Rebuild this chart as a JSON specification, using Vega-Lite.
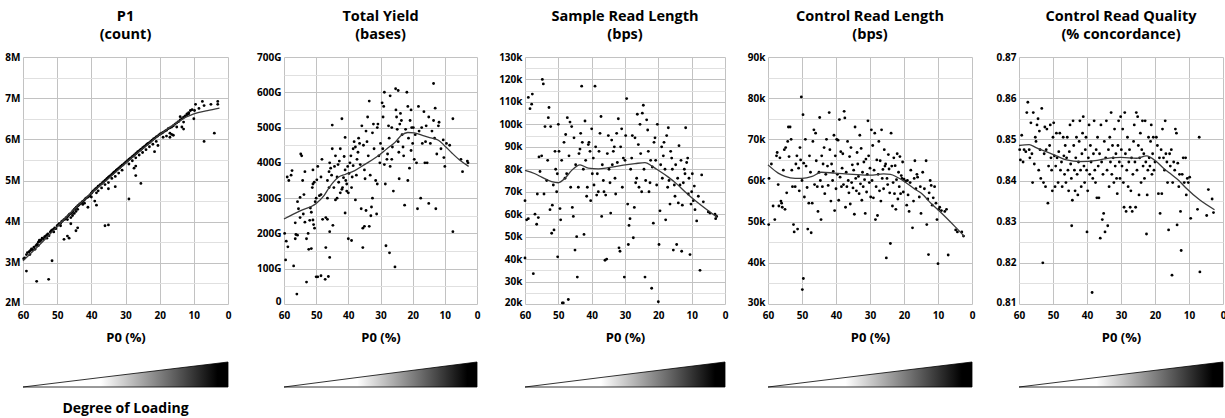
{
  "$schema": "https://vega.github.io/schema/vega-lite/v6.json",
  "padding": {"left": 0, "top": 8, "right": 0, "bottom": 0},
  "background": "white",
  "config": {
    "view": {"stroke": null},
    "font": "Open Sans",
    "title": {"fontSize": 14.5, "fontWeight": "bold", "font": "Open Sans", "lineHeight": 18, "offset": 10, "color": "#000", "anchor": "middle"},
    "axis": {"labelFont": "Open Sans", "titleFont": "Open Sans", "labelColor": "#000", "titleColor": "#000", "labelFontWeight": "bold", "labelFontSize": 10, "titleFontWeight": "bold", "titleFontSize": 13, "domain": false, "ticks": false}
  },
  "datasets": {
    "ramp": [{"t": 0}, {"t": 1}],
    "p1": [
      {"p0":59.8,"v":3.1},{"p0":59.5,"v":3.12},{"p0":59,"v":3.2},{"p0":58.7,"v":3.25},{"p0":58.2,"v":3.27},{"p0":57.8,"v":3.3},{"p0":57.5,"v":3.34},{"p0":57.2,"v":3.32},{"p0":56.8,"v":3.38},{"p0":56.5,"v":3.33},{"p0":56.2,"v":3.42},{"p0":55.9,"v":3.45},{"p0":55.5,"v":3.5},{"p0":55.2,"v":3.55},{"p0":55,"v":3.52},{"p0":54.7,"v":3.55},{"p0":54.4,"v":3.6},{"p0":54,"v":3.58},{"p0":53.7,"v":3.63},{"p0":53.4,"v":3.65},{"p0":53,"v":3.68},{"p0":52.7,"v":3.7},{"p0":52.4,"v":3.66},{"p0":52,"v":3.75},{"p0":51.7,"v":3.78},{"p0":51.4,"v":3.8},{"p0":51,"v":3.82},{"p0":50.7,"v":3.85},{"p0":50.4,"v":3.83},{"p0":50,"v":3.9},
      {"p0":49.7,"v":3.92},{"p0":49.4,"v":3.95},{"p0":49,"v":3.96},{"p0":48.7,"v":4.0},{"p0":48.4,"v":4.02},{"p0":48,"v":4.05},{"p0":47.7,"v":4.06},{"p0":47.4,"v":4.1},{"p0":47,"v":4.12},{"p0":46.7,"v":4.15},{"p0":46.4,"v":4.18},{"p0":46,"v":4.2},{"p0":45.7,"v":4.22},{"p0":45.4,"v":4.26},{"p0":45,"v":4.3},{"p0":44.7,"v":4.32},{"p0":44.4,"v":4.35},{"p0":44,"v":4.38},{"p0":43.7,"v":4.4},{"p0":43.4,"v":4.43},{"p0":43,"v":4.45},{"p0":42.7,"v":4.48},{"p0":42.4,"v":4.5},{"p0":42,"v":4.53},{"p0":41.7,"v":4.56},{"p0":41.4,"v":4.58},{"p0":41,"v":4.6},{"p0":40.7,"v":4.62},{"p0":40.4,"v":4.65},{"p0":40,"v":4.69},
      {"p0":39.7,"v":4.72},{"p0":39.4,"v":4.75},{"p0":39,"v":4.78},{"p0":38.7,"v":4.8},{"p0":38.4,"v":4.82},{"p0":38,"v":4.86},{"p0":37.7,"v":4.87},{"p0":37.4,"v":4.9},{"p0":37,"v":4.92},{"p0":36.7,"v":4.95},{"p0":36.4,"v":4.97},{"p0":36,"v":5.0},{"p0":35.7,"v":5.02},{"p0":35.4,"v":5.05},{"p0":35,"v":5.08},{"p0":34.7,"v":5.1},{"p0":34.4,"v":5.12},{"p0":34,"v":5.15},{"p0":33.7,"v":5.17},{"p0":33.4,"v":5.2},{"p0":33,"v":5.22},{"p0":32.7,"v":5.25},{"p0":32.4,"v":5.27},{"p0":32,"v":5.3},{"p0":31.7,"v":5.31},{"p0":31.4,"v":5.34},{"p0":31,"v":5.37},{"p0":30.7,"v":5.38},{"p0":30.4,"v":5.41},{"p0":30,"v":5.44},
      {"p0":29.7,"v":5.46},{"p0":29.4,"v":5.48},{"p0":29,"v":5.51},{"p0":28.7,"v":5.53},{"p0":28.4,"v":5.55},{"p0":28,"v":5.58},{"p0":27.7,"v":5.6},{"p0":27.4,"v":5.62},{"p0":27,"v":5.65},{"p0":26.7,"v":5.67},{"p0":26.4,"v":5.7},{"p0":26,"v":5.72},{"p0":25.7,"v":5.74},{"p0":25.4,"v":5.76},{"p0":25,"v":5.79},{"p0":24.7,"v":5.81},{"p0":24.4,"v":5.83},{"p0":24,"v":5.86},{"p0":23.7,"v":5.88},{"p0":23.4,"v":5.9},{"p0":23,"v":5.92},{"p0":22.6,"v":5.95},{"p0":22.2,"v":5.98},{"p0":21.8,"v":6.01},{"p0":21.4,"v":6.03},{"p0":21,"v":6.06},{"p0":20.6,"v":6.08},{"p0":20.2,"v":6.11},
      {"p0":19.8,"v":6.13},{"p0":19.4,"v":6.15},{"p0":19,"v":6.17},{"p0":18.5,"v":6.2},{"p0":18,"v":6.22},{"p0":17.5,"v":6.26},{"p0":17,"v":6.28},{"p0":16.5,"v":6.3},{"p0":16,"v":6.33},{"p0":15.5,"v":6.37},{"p0":15,"v":6.4},{"p0":14.5,"v":6.43},{"p0":14,"v":6.47},{"p0":13.5,"v":6.5},{"p0":13,"v":6.54},{"p0":12.5,"v":6.57},{"p0":12,"v":6.6},{"p0":11.5,"v":6.62},
      {"p0":58,"v":3.2},{"p0":55.5,"v":3.42},{"p0":53,"v":3.6},{"p0":51,"v":3.75},{"p0":49,"v":3.9},{"p0":47,"v":4.05},{"p0":45.5,"v":4.15},{"p0":44,"v":4.3},{"p0":42,"v":4.45},{"p0":40,"v":4.6},{"p0":38,"v":4.75},{"p0":36,"v":4.9},{"p0":35,"v":4.95},{"p0":33,"v":5.1},{"p0":31,"v":5.25},{"p0":29,"v":5.4},{"p0":27,"v":5.55},{"p0":25,"v":5.68},{"p0":23,"v":5.82},{"p0":21,"v":5.95},{"p0":19,"v":6.05},{"p0":17,"v":6.15},{"p0":15,"v":6.3},{"p0":13,"v":6.42},{"p0":46,"v":4.1},{"p0":44.5,"v":4.25},{"p0":42.5,"v":4.42},{"p0":38.5,"v":4.7},{"p0":37,"v":4.82},{"p0":34,"v":5.05},{"p0":32,"v":5.18},{"p0":28,"v":5.48},{"p0":26,"v":5.62},{"p0":24,"v":5.75},{"p0":22,"v":5.88},
      {"p0":59,"v":2.8},{"p0":56,"v":2.55},{"p0":52.5,"v":2.6},{"p0":51.5,"v":3.05},{"p0":48,"v":3.57},{"p0":47,"v":3.65},{"p0":46.5,"v":3.6},{"p0":44.5,"v":3.78},{"p0":44,"v":3.85},{"p0":46,"v":3.95},{"p0":45,"v":4.2},{"p0":41,"v":4.35},{"p0":38.5,"v":4.4},{"p0":36,"v":3.9},{"p0":35,"v":3.92},{"p0":39,"v":4.5},{"p0":35,"v":4.8},{"p0":33,"v":4.85},{"p0":29,"v":4.55},{"p0":27,"v":5.12},{"p0":25.5,"v":4.93},{"p0":27.5,"v":5.3},{"p0":27,"v":5.35},{"p0":21.5,"v":5.7},{"p0":20.5,"v":5.85},{"p0":17,"v":6.05},{"p0":16,"v":6.1},{"p0":13,"v":6.25},{"p0":10,"v":6.5},{"p0":7,"v":5.95},{"p0":4,"v":6.15},{"p0":9.5,"v":6.85},{"p0":7,"v":6.82},{"p0":5,"v":6.85},{"p0":3,"v":6.85},{"p0":3,"v":6.92},{"p0":7.5,"v":6.92},{"p0":9.8,"v":6.7},{"p0":11,"v":6.7},{"p0":11.5,"v":6.65},{"p0":14,"v":6.55},{"p0":10.5,"v":6.72},{"p0":12,"v":6.62},{"p0":8.5,"v":6.75},{"p0":13.5,"v":6.3},{"p0":16.5,"v":6.12},{"p0":18,"v":6.08}
    ],
    "p1_fit": [
      {"p0":60,"v":3.05},{"p0":55,"v":3.45},{"p0":50,"v":3.88},{"p0":45,"v":4.3},{"p0":40,"v":4.69},{"p0":35,"v":5.05},{"p0":30,"v":5.42},{"p0":25,"v":5.77},{"p0":20,"v":6.11},{"p0":15,"v":6.4},{"p0":12,"v":6.55},{"p0":10,"v":6.62},{"p0":6,"v":6.7},{"p0":2.5,"v":6.76}
    ],
    "yield": [
      {"p0":59.5,"v":125},{"p0":59.8,"v":200},{"p0":59.3,"v":178},{"p0":58.8,"v":162},{"p0":59,"v":360},{"p0":58.5,"v":350},{"p0":57.8,"v":365},{"p0":57.5,"v":378},{"p0":57,"v":108},{"p0":56.5,"v":230},{"p0":56.3,"v":197},{"p0":56.5,"v":185},{"p0":55.8,"v":195},{"p0":56,"v":28},{"p0":55.5,"v":270},{"p0":55.8,"v":290},{"p0":55,"v":302},{"p0":55,"v":245},{"p0":54.5,"v":420},{"p0":54.8,"v":425},{"p0":54.2,"v":350},{"p0":54,"v":255},{"p0":53.5,"v":232},{"p0":53.5,"v":375},{"p0":53.8,"v":310},{"p0":53,"v":185},{"p0":53,"v":62},{"p0":52.5,"v":200},{"p0":52.3,"v":155},{"p0":52,"v":237},{"p0":51.8,"v":272},{"p0":51.5,"v":157},{"p0":51.5,"v":260},{"p0":51.2,"v":330},{"p0":51,"v":340},{"p0":51,"v":380},{"p0":51,"v":238},{"p0":50.8,"v":225},{"p0":50.5,"v":215},{"p0":50,"v":77},{"p0":49.5,"v":77},{"p0":50,"v":300},{"p0":50.3,"v":290},{"p0":50.6,"v":345},{"p0":49.8,"v":352},{"p0":49.5,"v":390},{"p0":49,"v":307},{"p0":48.5,"v":310},{"p0":48.5,"v":360},{"p0":48.2,"v":410},{"p0":48,"v":240},{"p0":48.5,"v":80},{"p0":47.2,"v":70},{"p0":47,"v":245},{"p0":47,"v":160},{"p0":46.5,"v":240},{"p0":46.2,"v":78},{"p0":46.5,"v":300},{"p0":46,"v":330},{"p0":46.5,"v":350},{"p0":46,"v":375},{"p0":45.8,"v":400},{"p0":45.5,"v":385},{"p0":45.8,"v":205},{"p0":45.8,"v":132},{"p0":45.2,"v":365},{"p0":45,"v":440},{"p0":45,"v":507},{"p0":44.8,"v":223},{"p0":44.5,"v":330},{"p0":44.3,"v":390},{"p0":44,"v":420},{"p0":44,"v":295},{"p0":43.5,"v":300},{"p0":43.5,"v":360},{"p0":43.2,"v":395},{"p0":43,"v":345},{"p0":42.8,"v":405},{"p0":42.5,"v":315},{"p0":42,"v":325},{"p0":42,"v":525},{"p0":42.5,"v":440},{"p0":41.8,"v":330},{"p0":41.5,"v":358},{"p0":41.3,"v":418},{"p0":41,"v":380},{"p0":41,"v":472},{"p0":41,"v":258},{"p0":40.5,"v":320},{"p0":40.5,"v":340},{"p0":40.8,"v":350},{"p0":40.2,"v":390},{"p0":40,"v":185},{"p0":40,"v":315},{"p0":39.8,"v":370},{"p0":39.5,"v":400},{"p0":39.2,"v":420},{"p0":39,"v":180},{"p0":39,"v":330},{"p0":38.8,"v":360},{"p0":38.5,"v":392},{"p0":38.5,"v":440},{"p0":38.2,"v":460},{"p0":37.8,"v":445},{"p0":37.5,"v":365},{"p0":37.8,"v":295},{"p0":37.3,"v":410},{"p0":37,"v":430},{"p0":36.8,"v":470},{"p0":36.5,"v":455},{"p0":36.3,"v":395},{"p0":36,"v":270},{"p0":35.5,"v":215},{"p0":35.5,"v":160},{"p0":35.8,"v":505},{"p0":35.3,"v":450},{"p0":35,"v":380},{"p0":34.8,"v":355},{"p0":35,"v":220},{"p0":34.5,"v":265},{"p0":34.5,"v":490},{"p0":34.2,"v":460},{"p0":34,"v":530},{"p0":33.8,"v":420},{"p0":33.5,"v":575},{"p0":33.2,"v":365},{"p0":33.5,"v":220},{"p0":33,"v":250},{"p0":32.8,"v":275},{"p0":32.5,"v":300},{"p0":32.5,"v":485},{"p0":32.2,"v":510},{"p0":32,"v":440},{"p0":31.5,"v":350},{"p0":31.2,"v":255},{"p0":31,"v":340},{"p0":31,"v":500},{"p0":30.8,"v":510},{"p0":30.5,"v":420},{"p0":30.2,"v":400},{"p0":30,"v":455},{"p0":29.5,"v":570},{"p0":29.2,"v":530},{"p0":28.8,"v":600},{"p0":29,"v":560},{"p0":29.3,"v":440},{"p0":28.8,"v":395},{"p0":28.5,"v":340},{"p0":28.3,"v":165},{"p0":28,"v":410},{"p0":27.8,"v":425},{"p0":27.5,"v":505},{"p0":27.3,"v":470},{"p0":27.2,"v":145},{"p0":27,"v":590},{"p0":27,"v":390},{"p0":26.5,"v":410},{"p0":26.5,"v":500},{"p0":26.3,"v":445},{"p0":26,"v":320},{"p0":25.5,"v":105},{"p0":25.3,"v":610},{"p0":25.2,"v":550},{"p0":25,"v":530},{"p0":24.8,"v":495},{"p0":24.5,"v":460},{"p0":24.3,"v":430},{"p0":24.5,"v":605},{"p0":24.2,"v":355},{"p0":24,"v":510},{"p0":23.8,"v":540},{"p0":23.5,"v":520},{"p0":23.3,"v":480},{"p0":23,"v":445},{"p0":22.8,"v":420},{"p0":22.5,"v":280},{"p0":22.2,"v":495},{"p0":21.8,"v":600},{"p0":21.5,"v":560},{"p0":21.5,"v":350},{"p0":21,"v":385},{"p0":21.3,"v":470},{"p0":20.8,"v":520},{"p0":20.5,"v":550},{"p0":20.3,"v":500},{"p0":20,"v":455},{"p0":20.5,"v":435},{"p0":19.8,"v":500},{"p0":19.5,"v":410},{"p0":19.2,"v":480},{"p0":18.8,"v":400},{"p0":18.5,"v":270},{"p0":18.2,"v":560},{"p0":18,"v":490},{"p0":17.5,"v":300},{"p0":17.2,"v":500},{"p0":17,"v":455},{"p0":16.5,"v":545},{"p0":16.2,"v":400},{"p0":16,"v":460},{"p0":15.8,"v":505},{"p0":15.5,"v":400},{"p0":15,"v":285},{"p0":15,"v":530},{"p0":14.5,"v":455},{"p0":14,"v":490},{"p0":13.5,"v":625},{"p0":13.5,"v":520},{"p0":13.2,"v":470},{"p0":13,"v":555},{"p0":12.8,"v":270},{"p0":12.5,"v":425},{"p0":12,"v":505},{"p0":11.8,"v":515},{"p0":11.2,"v":440},{"p0":10.5,"v":465},{"p0":10.3,"v":415},{"p0":10,"v":390},{"p0":9.5,"v":455},{"p0":8.5,"v":450},{"p0":7.5,"v":525},{"p0":7.5,"v":205},{"p0":5,"v":410},{"p0":4.5,"v":375},{"p0":3,"v":405},{"p0":2.8,"v":400}
    ],
    "yield_fit": [
      {"p0":60,"v":241},{"p0":55,"v":264},{"p0":50,"v":285},{"p0":47.5,"v":308},{"p0":45.8,"v":332},{"p0":43,"v":360},{"p0":41,"v":367},{"p0":38,"v":378},{"p0":35,"v":395},{"p0":30.7,"v":420},{"p0":28,"v":440},{"p0":25.5,"v":458},{"p0":23.5,"v":478},{"p0":21.5,"v":486},{"p0":19.5,"v":485},{"p0":17,"v":478},{"p0":14,"v":470},{"p0":12,"v":464},{"p0":10,"v":448},{"p0":7.8,"v":428},{"p0":5,"v":405},{"p0":2.6,"v":390}
    ],
    "srl": [
      {"p0":60,"v":66},{"p0":60,"v":40.5},{"p0":59.5,"v":57.5},{"p0":59,"v":58},{"p0":59,"v":112},{"p0":58.5,"v":107},{"p0":58,"v":109},{"p0":57.8,"v":113.5},{"p0":57.5,"v":33.5},{"p0":57,"v":60},{"p0":56.5,"v":55.5},{"p0":56.3,"v":69},{"p0":56,"v":58.5},{"p0":55.8,"v":85.5},{"p0":55.5,"v":79},{"p0":55,"v":86},{"p0":54.8,"v":120},{"p0":54.5,"v":118},{"p0":54.3,"v":69},{"p0":54,"v":99},{"p0":53.5,"v":75},{"p0":53.2,"v":84},{"p0":53,"v":103},{"p0":52.8,"v":107.5},{"p0":52.5,"v":62},{"p0":52.3,"v":99},{"p0":52,"v":51.5},{"p0":51.8,"v":64},{"p0":51.5,"v":73},{"p0":51.3,"v":53},{"p0":51,"v":88},{"p0":50.8,"v":80},{"p0":50.5,"v":70},{"p0":50.3,"v":78},{"p0":50.2,"v":41},{"p0":50,"v":100},{"p0":49.8,"v":88},{"p0":49.5,"v":62.5},{"p0":49.3,"v":57.5},{"p0":49,"v":84},{"p0":48.8,"v":20.5},{"p0":48.5,"v":20.5},{"p0":48.3,"v":92},{"p0":48,"v":76},{"p0":47.8,"v":95.5},{"p0":47.5,"v":78},{"p0":47.3,"v":103},{"p0":47,"v":22},{"p0":46.8,"v":86},{"p0":46.5,"v":101},{"p0":46.3,"v":72},{"p0":46,"v":99},{"p0":45.8,"v":63},{"p0":45.5,"v":59},{"p0":45.3,"v":94},{"p0":45,"v":44},{"p0":44.8,"v":82},{"p0":44.5,"v":50},{"p0":44.3,"v":32},{"p0":44,"v":72},{"p0":43.8,"v":87},{"p0":43.5,"v":89},{"p0":43.3,"v":96},{"p0":43,"v":117},{"p0":42.8,"v":92},{"p0":42.5,"v":80},{"p0":42.3,"v":51},{"p0":42,"v":101.5},{"p0":41.8,"v":84},{"p0":41.5,"v":68},{"p0":41.3,"v":72},{"p0":41,"v":91},{"p0":40.8,"v":92},{"p0":40.5,"v":88},{"p0":40.3,"v":66},{"p0":40,"v":98},{"p0":39.8,"v":78},{"p0":39.5,"v":85},{"p0":39.3,"v":73},{"p0":39,"v":117},{"p0":38.8,"v":90},{"p0":38.5,"v":68.5},{"p0":38.3,"v":78},{"p0":38,"v":70},{"p0":37.8,"v":88},{"p0":37.5,"v":96},{"p0":37.2,"v":103.5},{"p0":37,"v":59},{"p0":36.8,"v":82},{"p0":36.5,"v":75},{"p0":36.3,"v":70},{"p0":36,"v":39.5},{"p0":35.8,"v":68.5},{"p0":35.5,"v":40},{"p0":35.3,"v":87},{"p0":35,"v":95},{"p0":34.8,"v":80},{"p0":34.5,"v":74},{"p0":34.3,"v":60.5},{"p0":34,"v":93},{"p0":33.8,"v":82},{"p0":33.5,"v":88},{"p0":33.2,"v":90},{"p0":33,"v":76},{"p0":32.8,"v":69},{"p0":32.5,"v":96},{"p0":32.3,"v":83},{"p0":32,"v":102.5},{"p0":31.8,"v":45},{"p0":31.5,"v":43.5},{"p0":31.3,"v":90},{"p0":31,"v":98},{"p0":30.8,"v":72},{"p0":30.5,"v":85},{"p0":30.2,"v":32},{"p0":30,"v":84},{"p0":29.8,"v":95},{"p0":29.5,"v":111.5},{"p0":29.2,"v":64.5},{"p0":29,"v":46.5},{"p0":28.8,"v":55},{"p0":28.5,"v":58},{"p0":28.3,"v":80},{"p0":28,"v":85},{"p0":27.8,"v":95},{"p0":27.5,"v":49.5},{"p0":27.2,"v":63},{"p0":27,"v":94},{"p0":26.8,"v":74},{"p0":26.5,"v":76},{"p0":26.3,"v":104.5},{"p0":26,"v":91},{"p0":25.8,"v":72},{"p0":25.5,"v":100},{"p0":25.3,"v":87},{"p0":25,"v":70},{"p0":24.8,"v":105},{"p0":24.5,"v":108.5},{"p0":24.3,"v":80},{"p0":24,"v":32},{"p0":23.8,"v":75},{"p0":23.5,"v":102},{"p0":23.2,"v":97.5},{"p0":23,"v":88},{"p0":22.8,"v":70},{"p0":22.5,"v":74},{"p0":22.3,"v":84},{"p0":22,"v":27},{"p0":21.8,"v":81},{"p0":21.5,"v":56},{"p0":21.3,"v":92},{"p0":21,"v":94},{"p0":20.8,"v":84},{"p0":20.5,"v":73},{"p0":20.3,"v":100},{"p0":20,"v":21},{"p0":19.8,"v":46.5},{"p0":19.5,"v":61.5},{"p0":19.3,"v":82},{"p0":19,"v":90},{"p0":18.8,"v":76},{"p0":18.5,"v":86},{"p0":18.3,"v":92},{"p0":18,"v":80},{"p0":17.8,"v":57.5},{"p0":17.5,"v":95},{"p0":17.2,"v":72},{"p0":17,"v":98.5},{"p0":16.8,"v":75},{"p0":16.5,"v":64.5},{"p0":16.3,"v":88},{"p0":16,"v":85},{"p0":15.8,"v":80},{"p0":15.5,"v":44},{"p0":15.2,"v":73},{"p0":15,"v":68},{"p0":14.8,"v":82},{"p0":14.5,"v":46.5},{"p0":14.2,"v":76},{"p0":14,"v":65},{"p0":13.8,"v":90.5},{"p0":13.5,"v":73},{"p0":13.2,"v":84},{"p0":13,"v":43.5},{"p0":12.8,"v":64},{"p0":12.5,"v":74},{"p0":12.2,"v":80},{"p0":12,"v":78},{"p0":11.8,"v":98.5},{"p0":11.5,"v":83},{"p0":11.2,"v":85},{"p0":11,"v":69},{"p0":10.8,"v":76},{"p0":10.5,"v":42},{"p0":10.2,"v":64.5},{"p0":10,"v":70},{"p0":9.8,"v":78},{"p0":9.5,"v":66},{"p0":9.2,"v":72.5},{"p0":9,"v":62},{"p0":8.5,"v":57},{"p0":8,"v":68},{"p0":7.5,"v":35},{"p0":7,"v":77.5},{"p0":6.5,"v":65.5},{"p0":5,"v":61},{"p0":4.5,"v":60.5},{"p0":3,"v":60},{"p0":2.8,"v":58},{"p0":2.5,"v":59}
    ],
    "srl_fit": [
      {"p0":60,"v":79.5},{"p0":57,"v":78},{"p0":55,"v":76.5},{"p0":52,"v":74.5},{"p0":50,"v":74},{"p0":48,"v":76},{"p0":46,"v":79.5},{"p0":43.5,"v":82},{"p0":41,"v":80.5},{"p0":38,"v":80.2},{"p0":35,"v":80.7},{"p0":30.5,"v":81.8},{"p0":27,"v":82.5},{"p0":24,"v":83},{"p0":22,"v":81.5},{"p0":20.5,"v":80},{"p0":17,"v":76.5},{"p0":14.5,"v":73.5},{"p0":12,"v":70},{"p0":8.5,"v":65.5},{"p0":5,"v":61.5},{"p0":2.5,"v":58.8}
    ],
    "crl": [
      {"p0":59.8,"v":49.3},{"p0":59.7,"v":60.5},{"p0":59,"v":64},{"p0":58.5,"v":53.8},{"p0":58,"v":50.5},{"p0":57.5,"v":66},{"p0":57.3,"v":66.8},{"p0":57,"v":59},{"p0":56.8,"v":53.8},{"p0":56.5,"v":65.5},{"p0":56.2,"v":55},{"p0":56,"v":54.5},{"p0":55.8,"v":53.5},{"p0":55.5,"v":62.5},{"p0":55.2,"v":67.5},{"p0":55,"v":53},{"p0":54.8,"v":68},{"p0":54.5,"v":57},{"p0":54.2,"v":69.5},{"p0":54,"v":73},{"p0":53.8,"v":65.8},{"p0":53.5,"v":73},{"p0":53.2,"v":70},{"p0":53,"v":62.5},{"p0":52.8,"v":58.5},{"p0":52.5,"v":49.3},{"p0":52.3,"v":47.5},{"p0":52,"v":58.5},{"p0":51.8,"v":64},{"p0":51.5,"v":66},{"p0":51.3,"v":48.2},{"p0":51,"v":63},{"p0":50.8,"v":57.5},{"p0":50.6,"v":68},{"p0":50.4,"v":65},{"p0":50.2,"v":80.3},{"p0":50,"v":60},{"p0":49.9,"v":33.5},{"p0":49.7,"v":76},{"p0":49.6,"v":36.2},{"p0":49.5,"v":64.2},{"p0":49.3,"v":56},{"p0":49,"v":70},{"p0":48.8,"v":63.5},{"p0":48.5,"v":58.3},{"p0":48.3,"v":48.2},{"p0":48,"v":54.5},{"p0":47.8,"v":66},{"p0":47.5,"v":62},{"p0":47.3,"v":47.3},{"p0":47,"v":54.5},{"p0":46.8,"v":69.5},{"p0":46.5,"v":72.3},{"p0":46.3,"v":59},{"p0":46,"v":71.5},{"p0":45.8,"v":64.8},{"p0":45.5,"v":58.5},{"p0":45.3,"v":52.5},{"p0":45,"v":62},{"p0":44.8,"v":75.3},{"p0":44.6,"v":60},{"p0":44.4,"v":50.5},{"p0":44.2,"v":66},{"p0":44,"v":58.5},{"p0":43.8,"v":64},{"p0":43.5,"v":68},{"p0":43.3,"v":56.8},{"p0":43,"v":61.5},{"p0":42.8,"v":70},{"p0":42.5,"v":63.5},{"p0":42.3,"v":58.8},{"p0":42,"v":76.5},{"p0":41.8,"v":67.5},{"p0":41.5,"v":55},{"p0":41.3,"v":64},{"p0":41,"v":60},{"p0":40.8,"v":62.2},{"p0":40.6,"v":71},{"p0":40.4,"v":52.7},{"p0":40.2,"v":66},{"p0":40,"v":58},{"p0":39.8,"v":70},{"p0":39.6,"v":61.5},{"p0":39.4,"v":69.8},{"p0":39.2,"v":55.2},{"p0":39,"v":74.8},{"p0":38.8,"v":60.8},{"p0":38.6,"v":67},{"p0":38.4,"v":58.5},{"p0":38.2,"v":63},{"p0":38,"v":66.5},{"p0":37.8,"v":59},{"p0":37.6,"v":76.8},{"p0":37.4,"v":75.2},{"p0":37.2,"v":53.5},{"p0":37,"v":62},{"p0":36.8,"v":58.5},{"p0":36.6,"v":69.5},{"p0":36.4,"v":60},{"p0":36.2,"v":57},{"p0":36,"v":65.8},{"p0":35.8,"v":54.3},{"p0":35.6,"v":68},{"p0":35.4,"v":59.5},{"p0":35.2,"v":63.8},{"p0":35,"v":58.2},{"p0":34.8,"v":62.5},{"p0":34.6,"v":51.8},{"p0":34.4,"v":73},{"p0":34.2,"v":60.5},{"p0":34,"v":57.5},{"p0":33.8,"v":66.8},{"p0":33.6,"v":64},{"p0":33.4,"v":61},{"p0":33.2,"v":56.8},{"p0":33,"v":71},{"p0":32.8,"v":59.2},{"p0":32.6,"v":67.8},{"p0":32.4,"v":55.2},{"p0":32.2,"v":62},{"p0":32,"v":58.5},{"p0":31.8,"v":64.5},{"p0":31.6,"v":60.2},{"p0":31.4,"v":52},{"p0":31.2,"v":65.2},{"p0":31,"v":57.2},{"p0":30.8,"v":61.5},{"p0":30.6,"v":74.5},{"p0":30.4,"v":66},{"p0":30.2,"v":59.5},{"p0":30,"v":63},{"p0":29.8,"v":56},{"p0":29.6,"v":72.3},{"p0":29.4,"v":60},{"p0":29.2,"v":68.5},{"p0":29,"v":55.8},{"p0":28.8,"v":62.5},{"p0":28.6,"v":71.5},{"p0":28.4,"v":50.5},{"p0":28.2,"v":58.5},{"p0":28,"v":65},{"p0":27.8,"v":51.5},{"p0":27.6,"v":61.5},{"p0":27.4,"v":69.5},{"p0":27.2,"v":57.5},{"p0":27,"v":64.8},{"p0":26.8,"v":55},{"p0":26.6,"v":72.3},{"p0":26.4,"v":60.5},{"p0":26.2,"v":62.7},{"p0":26,"v":58},{"p0":25.8,"v":67.5},{"p0":25.6,"v":63.5},{"p0":25.4,"v":64},{"p0":25.2,"v":41.2},{"p0":25,"v":60.5},{"p0":24.8,"v":59},{"p0":24.6,"v":66.3},{"p0":24.4,"v":62.8},{"p0":24.2,"v":57},{"p0":24,"v":44.7},{"p0":23.8,"v":71.5},{"p0":23.6,"v":63.5},{"p0":23.4,"v":53.8},{"p0":23.2,"v":59.5},{"p0":23,"v":65.5},{"p0":22.8,"v":56.8},{"p0":22.6,"v":63.6},{"p0":22.4,"v":53},{"p0":22.2,"v":60.2},{"p0":22,"v":66.5},{"p0":21.8,"v":55.5},{"p0":21.6,"v":62},{"p0":21.4,"v":58.5},{"p0":21.2,"v":65.8},{"p0":21,"v":56.8},{"p0":20.8,"v":61.2},{"p0":20.6,"v":60.5},{"p0":20.4,"v":64.5},{"p0":20.2,"v":57.2},{"p0":20,"v":60.3},{"p0":19.6,"v":59.8},{"p0":19.2,"v":54},{"p0":19,"v":60},{"p0":18.8,"v":56.5},{"p0":18.5,"v":52.5},{"p0":18.2,"v":59.5},{"p0":18,"v":62.5},{"p0":17.5,"v":48.5},{"p0":17.2,"v":55},{"p0":17,"v":60.5},{"p0":16.8,"v":64.8},{"p0":16.5,"v":58},{"p0":16.2,"v":61.5},{"p0":16,"v":60.8},{"p0":15.5,"v":56},{"p0":15.2,"v":58.5},{"p0":15,"v":52},{"p0":14.5,"v":62},{"p0":14,"v":58},{"p0":13.5,"v":64.8},{"p0":13.3,"v":49.3},{"p0":13,"v":55.5},{"p0":12.8,"v":42},{"p0":12.6,"v":57},{"p0":12.3,"v":60},{"p0":12,"v":58.8},{"p0":11.7,"v":54},{"p0":11.4,"v":55.8},{"p0":11,"v":58.5},{"p0":10.6,"v":54.5},{"p0":10.3,"v":50.5},{"p0":10,"v":39.8},{"p0":9.8,"v":53},{"p0":9.5,"v":53.5},{"p0":9,"v":52.7},{"p0":8,"v":52.5},{"p0":7.5,"v":53},{"p0":7,"v":41.9},{"p0":4.8,"v":48},{"p0":4.3,"v":47.5},{"p0":3,"v":47.5},{"p0":2.5,"v":46.5}
    ],
    "crl_fit": [
      {"p0":60,"v":63.8},{"p0":57,"v":61.8},{"p0":55,"v":61},{"p0":52,"v":60.5},{"p0":50,"v":60.5},{"p0":47,"v":61},{"p0":44.3,"v":62},{"p0":40.4,"v":61.8},{"p0":35,"v":61.5},{"p0":30,"v":61.3},{"p0":26,"v":61.6},{"p0":24,"v":61.5},{"p0":22,"v":60.8},{"p0":19.8,"v":59.7},{"p0":17,"v":58},{"p0":14.9,"v":56.9},{"p0":12,"v":54.4},{"p0":9,"v":52.1},{"p0":5,"v":48.8},{"p0":2.2,"v":46.4}
    ],
    "crq": [
      {"p0":59.8,"v":0.8475},{"p0":59.6,"v":0.845},{"p0":59.2,"v":0.851},{"p0":58.8,"v":0.8445},{"p0":58.5,"v":0.8475},{"p0":58,"v":0.847},{"p0":57.7,"v":0.8565},{"p0":57.4,"v":0.859},{"p0":57,"v":0.8475},{"p0":56.8,"v":0.8455},{"p0":56.5,"v":0.854},{"p0":56.2,"v":0.8465},{"p0":56,"v":0.8395},{"p0":55.8,"v":0.8565},{"p0":55.5,"v":0.844},{"p0":55.2,"v":0.8505},{"p0":55,"v":0.8495},{"p0":54.7,"v":0.8535},{"p0":54.4,"v":0.855},{"p0":54.2,"v":0.8425},{"p0":54,"v":0.852},{"p0":53.8,"v":0.8475},{"p0":53.6,"v":0.8405},{"p0":53.3,"v":0.8575},{"p0":53,"v":0.82},{"p0":52.8,"v":0.8395},{"p0":52.6,"v":0.8465},{"p0":52.4,"v":0.853},{"p0":52.2,"v":0.8385},{"p0":52,"v":0.8475},{"p0":51.8,"v":0.8525},{"p0":51.5,"v":0.8345},{"p0":51.3,"v":0.8435},{"p0":51,"v":0.8485},{"p0":50.8,"v":0.8535},{"p0":50.6,"v":0.8455},{"p0":50.4,"v":0.8425},{"p0":50.2,"v":0.8375},{"p0":50,"v":0.8505},{"p0":49.8,"v":0.854},{"p0":49.6,"v":0.846},{"p0":49.4,"v":0.8385},{"p0":49.2,"v":0.8435},{"p0":49,"v":0.8515},{"p0":48.8,"v":0.8455},{"p0":48.5,"v":0.8395},{"p0":48.3,"v":0.847},{"p0":48,"v":0.8515},{"p0":47.8,"v":0.8425},{"p0":47.5,"v":0.8445},{"p0":47.3,"v":0.8385},{"p0":47,"v":0.8505},{"p0":46.8,"v":0.846},{"p0":46.6,"v":0.8415},{"p0":46.4,"v":0.8485},{"p0":46.2,"v":0.8395},{"p0":46,"v":0.8455},{"p0":45.8,"v":0.8505},{"p0":45.6,"v":0.8425},{"p0":45.4,"v":0.8375},{"p0":45.2,"v":0.847},{"p0":45,"v":0.8535},{"p0":44.8,"v":0.844},{"p0":44.6,"v":0.8405},{"p0":44.5,"v":0.829},{"p0":44.3,"v":0.8352},{"p0":44.1,"v":0.8545},{"p0":43.9,"v":0.8485},{"p0":43.7,"v":0.8425},{"p0":43.5,"v":0.8375},{"p0":43.3,"v":0.8455},{"p0":43.1,"v":0.8505},{"p0":42.9,"v":0.8415},{"p0":42.7,"v":0.8365},{"p0":42.5,"v":0.8445},{"p0":42.3,"v":0.8495},{"p0":42.1,"v":0.8545},{"p0":41.9,"v":0.8425},{"p0":41.7,"v":0.8385},{"p0":41.5,"v":0.8465},{"p0":41.3,"v":0.8515},{"p0":41.1,"v":0.8555},{"p0":40.9,"v":0.8435},{"p0":40.7,"v":0.8395},{"p0":40.5,"v":0.8475},{"p0":40.3,"v":0.8505},{"p0":40.1,"v":0.8425},{"p0":40,"v":0.8275},{"p0":39.8,"v":0.8375},{"p0":39.6,"v":0.8455},{"p0":39.4,"v":0.8535},{"p0":39.2,"v":0.8415},{"p0":39,"v":0.8485},{"p0":38.8,"v":0.8445},{"p0":38.5,"v":0.8128},{"p0":38.3,"v":0.8405},{"p0":38.1,"v":0.8465},{"p0":37.9,"v":0.8545},{"p0":37.7,"v":0.8425},{"p0":37.5,"v":0.8395},{"p0":37.3,"v":0.8475},{"p0":37.1,"v":0.8358},{"p0":36.9,"v":0.8505},{"p0":36.7,"v":0.8435},{"p0":36.5,"v":0.8358},{"p0":36.3,"v":0.8465},{"p0":36.1,"v":0.826},{"p0":35.9,"v":0.8535},{"p0":35.7,"v":0.8445},{"p0":35.5,"v":0.8305},{"p0":35.3,"v":0.8415},{"p0":35.1,"v":0.832},{"p0":34.9,"v":0.8495},{"p0":34.7,"v":0.8275},{"p0":34.5,"v":0.8455},{"p0":34.3,"v":0.8545},{"p0":34.1,"v":0.8425},{"p0":33.9,"v":0.829},{"p0":33.7,"v":0.8475},{"p0":33.5,"v":0.8385},{"p0":33.3,"v":0.8505},{"p0":33.1,"v":0.8445},{"p0":32.9,"v":0.8565},{"p0":32.7,"v":0.8415},{"p0":32.5,"v":0.8485},{"p0":32.3,"v":0.8455},{"p0":32.1,"v":0.8395},{"p0":31.9,"v":0.8525},{"p0":31.7,"v":0.8435},{"p0":31.5,"v":0.8465},{"p0":31.3,"v":0.8405},{"p0":31.1,"v":0.8368},{"p0":30.9,"v":0.8485},{"p0":30.7,"v":0.8545},{"p0":30.5,"v":0.8445},{"p0":30.3,"v":0.8405},{"p0":30.1,"v":0.8555},{"p0":29.9,"v":0.8475},{"p0":29.7,"v":0.8435},{"p0":29.5,"v":0.8525},{"p0":29.3,"v":0.8395},{"p0":29.1,"v":0.8335},{"p0":28.9,"v":0.8565},{"p0":28.7,"v":0.8465},{"p0":28.5,"v":0.8325},{"p0":28.3,"v":0.8425},{"p0":28.1,"v":0.8505},{"p0":27.9,"v":0.8385},{"p0":27.7,"v":0.8445},{"p0":27.5,"v":0.8475},{"p0":27.3,"v":0.8335},{"p0":27.1,"v":0.8375},{"p0":26.9,"v":0.8455},{"p0":26.7,"v":0.8325},{"p0":26.5,"v":0.8415},{"p0":26.3,"v":0.8495},{"p0":26.1,"v":0.8535},{"p0":25.9,"v":0.8445},{"p0":25.7,"v":0.8335},{"p0":25.5,"v":0.8565},{"p0":25.3,"v":0.8425},{"p0":25.1,"v":0.8555},{"p0":24.9,"v":0.8485},{"p0":24.7,"v":0.8365},{"p0":24.5,"v":0.8455},{"p0":24.3,"v":0.8515},{"p0":24.1,"v":0.8395},{"p0":23.9,"v":0.8475},{"p0":23.7,"v":0.8545},{"p0":23.5,"v":0.8435},{"p0":23.3,"v":0.8465},{"p0":23.1,"v":0.8405},{"p0":22.9,"v":0.8545},{"p0":22.7,"v":0.8445},{"p0":22.5,"v":0.827},{"p0":22.3,"v":0.8365},{"p0":22.1,"v":0.8425},{"p0":21.9,"v":0.8505},{"p0":21.7,"v":0.8455},{"p0":21.5,"v":0.8435},{"p0":21.3,"v":0.8495},{"p0":21.1,"v":0.8535},{"p0":20.9,"v":0.8415},{"p0":20.7,"v":0.8465},{"p0":20.5,"v":0.8505},{"p0":20.3,"v":0.8425},{"p0":20,"v":0.8445},{"p0":19.6,"v":0.8505},{"p0":19.3,"v":0.8485},{"p0":19,"v":0.8368},{"p0":18.7,"v":0.8455},{"p0":18.5,"v":0.832},{"p0":18.2,"v":0.8475},{"p0":18,"v":0.8368},{"p0":17.8,"v":0.8525},{"p0":17.5,"v":0.8455},{"p0":17.2,"v":0.8425},{"p0":17,"v":0.8545},{"p0":16.8,"v":0.8465},{"p0":16.5,"v":0.8445},{"p0":16.3,"v":0.8395},{"p0":16,"v":0.828},{"p0":15.7,"v":0.8465},{"p0":15.5,"v":0.8435},{"p0":15.2,"v":0.8475},{"p0":15,"v":0.817},{"p0":14.8,"v":0.8395},{"p0":14.5,"v":0.8445},{"p0":14.2,"v":0.8425},{"p0":14,"v":0.8525},{"p0":13.7,"v":0.8515},{"p0":13.5,"v":0.8292},{"p0":13.3,"v":0.8442},{"p0":13,"v":0.8385},{"p0":12.8,"v":0.8415},{"p0":12.5,"v":0.8325},{"p0":12.3,"v":0.823},{"p0":12,"v":0.8415},{"p0":11.7,"v":0.8455},{"p0":11.4,"v":0.8395},{"p0":11,"v":0.8455},{"p0":10.8,"v":0.8365},{"p0":10.5,"v":0.8405},{"p0":10.2,"v":0.8395},{"p0":9.8,"v":0.8408},{"p0":9.5,"v":0.8308},{"p0":7.5,"v":0.833},{"p0":7,"v":0.8505},{"p0":6.8,"v":0.8178},{"p0":4.8,"v":0.8315},{"p0":4.3,"v":0.8378},{"p0":3.2,"v":0.8355},{"p0":2.8,"v":0.8322}
    ],
    "crq_fit": [
      {"p0":60,"v":0.8485},{"p0":57,"v":0.8487},{"p0":55,"v":0.848},{"p0":52,"v":0.847},{"p0":49,"v":0.846},{"p0":46,"v":0.845},{"p0":42,"v":0.8446},{"p0":37,"v":0.8449},{"p0":33,"v":0.8455},{"p0":30,"v":0.8456},{"p0":25.5,"v":0.8454},{"p0":22.5,"v":0.846},{"p0":19.6,"v":0.8446},{"p0":17.5,"v":0.843},{"p0":15.7,"v":0.8418},{"p0":13,"v":0.84},{"p0":10.8,"v":0.8381},{"p0":6.9,"v":0.8353},{"p0":2.5,"v":0.8329}
    ]
  },
  "spacing": 5,
  "hconcat": [
    {
      "spacing": 16,
      "vconcat": [
        {
          "width": 205, "height": 247,
          "title": {"text": ["P1", "(count)"]},
          "encoding": {
            "x": {"field": "p0", "type": "quantitative", "scale": {"domain": [0, 60], "reverse": true, "nice": false}, "axis": {"title": "P0 (%)", "values": [0,10,20,30,40,50,60], "labelFlush": false, "gridColor": "#c2c2c2", "labelPadding": 6, "titlePadding": 11}},
            "y": {"field": "v", "type": "quantitative", "scale": {"domain": [2, 8], "nice": false, "zero": false}, "axis": {"title": null, "values": [2,2.5,3,3.5,4,4.5,5,5.5,6,6.5,7,7.5,8], "labelExpr": "datum.value % 1 === 0 ? datum.value + 'M' : ''", "labelOffset": {"condition": {"test": "datum.value === 2", "value": -2}, "value": 0}, "gridColor": {"condition": {"test": "datum.value % 1 === 0", "value": "#c2c2c2"}, "value": "#e0e0e0"}, "labelPadding": 3, "minExtent": 23, "maxExtent": 23}}
          },
          "layer": [
            {"data": {"name": "p1"}, "mark": {"type": "circle", "size": 8, "color": "#000", "opacity": 1}},
            {"data": {"name": "p1_fit"}, "mark": {"type": "line", "color": "#3a3a3a", "strokeWidth": 1.3, "interpolate": "monotone"}}
          ]
        },
        {
          "width": 205, "height": 25,
          "title": {"text": "Degree of Loading", "orient": "bottom", "offset": 13, "fontSize": 14},
          "data": {"name": "ramp"},
          "mark": {"type": "area", "stroke": "#000", "strokeWidth": 0.8, "color": {"gradient": "linear", "x1": 0, "y1": 0, "x2": 1, "y2": 0, "stops": [{"offset": 0, "color": "#ffffff"}, {"offset": 0.38, "color": "#ffffff"}, {"offset": 0.95, "color": "#000000"}, {"offset": 1, "color": "#000000"}]}},
          "encoding": {
            "x": {"field": "t", "type": "quantitative", "scale": {"domain": [0, 1], "nice": false}, "axis": null},
            "y": {"field": "t", "type": "quantitative", "scale": {"domain": [0, 1], "nice": false}, "axis": null},
            "y2": {"datum": 0}
          }
        }
      ]
    },
    {
      "spacing": 16,
      "vconcat": [
        {
          "width": 193, "height": 247,
          "title": {"text": ["Total Yield", "(bases)"]},
          "encoding": {
            "x": {"field": "p0", "type": "quantitative", "scale": {"domain": [0, 60], "reverse": true, "nice": false}, "axis": {"title": "P0 (%)", "values": [0,10,20,30,40,50,60], "labelFlush": false, "gridColor": "#c2c2c2", "labelPadding": 6, "titlePadding": 11}},
            "y": {"field": "v", "type": "quantitative", "scale": {"domain": [0, 700], "nice": false}, "axis": {"title": null, "values": [0,50,100,150,200,250,300,350,400,450,500,550,600,650,700], "labelExpr": "datum.value % 100 === 0 ? (datum.value === 0 ? '0' : datum.value + 'G') : ''", "labelOffset": {"condition": {"test": "datum.value === 0", "value": -3}, "value": 0}, "gridColor": {"condition": {"test": "datum.value % 100 === 0", "value": "#c2c2c2"}, "value": "#e0e0e0"}, "labelPadding": 3, "minExtent": 48, "maxExtent": 48}}
          },
          "layer": [
            {"data": {"name": "yield"}, "mark": {"type": "circle", "size": 8, "color": "#000", "opacity": 1}},
            {"data": {"name": "yield_fit"}, "mark": {"type": "line", "color": "#3a3a3a", "strokeWidth": 1.3, "interpolate": "monotone"}}
          ]
        },
        {
          "width": 193, "height": 25,
          "data": {"name": "ramp"},
          "mark": {"type": "area", "stroke": "#000", "strokeWidth": 0.8, "color": {"gradient": "linear", "x1": 0, "y1": 0, "x2": 1, "y2": 0, "stops": [{"offset": 0, "color": "#ffffff"}, {"offset": 0.38, "color": "#ffffff"}, {"offset": 0.95, "color": "#000000"}, {"offset": 1, "color": "#000000"}]}},
          "encoding": {
            "x": {"field": "t", "type": "quantitative", "scale": {"domain": [0, 1], "nice": false}, "axis": null},
            "y": {"field": "t", "type": "quantitative", "scale": {"domain": [0, 1], "nice": false}, "axis": null},
            "y2": {"datum": 0}
          }
        }
      ]
    },
    {
      "spacing": 16,
      "vconcat": [
        {
          "width": 200, "height": 247,
          "title": {"text": ["Sample Read Length", "(bps)"]},
          "encoding": {
            "x": {"field": "p0", "type": "quantitative", "scale": {"domain": [0, 60], "reverse": true, "nice": false}, "axis": {"title": "P0 (%)", "values": [0,10,20,30,40,50,60], "labelFlush": false, "gridColor": "#c2c2c2", "labelPadding": 6, "titlePadding": 11}},
            "y": {"field": "v", "type": "quantitative", "scale": {"domain": [20, 130], "nice": false, "zero": false}, "axis": {"title": null, "values": [20,25,30,35,40,45,50,55,60,65,70,75,80,85,90,95,100,105,110,115,120,125,130], "labelExpr": "datum.value % 10 === 0 ? datum.value + 'k' : ''", "labelOffset": {"condition": {"test": "datum.value === 20", "value": -2}, "value": 0}, "gridColor": {"condition": {"test": "datum.value % 10 === 0", "value": "#c2c2c2"}, "value": "#e0e0e0"}, "labelPadding": 3, "minExtent": 40, "maxExtent": 40}}
          },
          "layer": [
            {"data": {"name": "srl"}, "mark": {"type": "circle", "size": 8, "color": "#000", "opacity": 1}},
            {"data": {"name": "srl_fit"}, "mark": {"type": "line", "color": "#3a3a3a", "strokeWidth": 1.3, "interpolate": "monotone"}}
          ]
        },
        {
          "width": 200, "height": 25,
          "data": {"name": "ramp"},
          "mark": {"type": "area", "stroke": "#000", "strokeWidth": 0.8, "color": {"gradient": "linear", "x1": 0, "y1": 0, "x2": 1, "y2": 0, "stops": [{"offset": 0, "color": "#ffffff"}, {"offset": 0.38, "color": "#ffffff"}, {"offset": 0.95, "color": "#000000"}, {"offset": 1, "color": "#000000"}]}},
          "encoding": {
            "x": {"field": "t", "type": "quantitative", "scale": {"domain": [0, 1], "nice": false}, "axis": null},
            "y": {"field": "t", "type": "quantitative", "scale": {"domain": [0, 1], "nice": false}, "axis": null},
            "y2": {"datum": 0}
          }
        }
      ]
    },
    {
      "spacing": 16,
      "vconcat": [
        {
          "width": 204, "height": 247,
          "title": {"text": ["Control Read Length", "(bps)"]},
          "encoding": {
            "x": {"field": "p0", "type": "quantitative", "scale": {"domain": [0, 60], "reverse": true, "nice": false}, "axis": {"title": "P0 (%)", "values": [0,10,20,30,40,50,60], "labelFlush": false, "gridColor": "#c2c2c2", "labelPadding": 6, "titlePadding": 11}},
            "y": {"field": "v", "type": "quantitative", "scale": {"domain": [30, 90], "nice": false, "zero": false}, "axis": {"title": null, "values": [30,35,40,45,50,55,60,65,70,75,80,85,90], "labelExpr": "datum.value % 10 === 0 ? datum.value + 'k' : ''", "labelOffset": {"condition": {"test": "datum.value === 30", "value": -2}, "value": 0}, "gridColor": {"condition": {"test": "datum.value % 10 === 0", "value": "#c2c2c2"}, "value": "#e0e0e0"}, "labelPadding": 3, "minExtent": 35, "maxExtent": 35}}
          },
          "layer": [
            {"data": {"name": "crl"}, "mark": {"type": "circle", "size": 8, "color": "#000", "opacity": 1}},
            {"data": {"name": "crl_fit"}, "mark": {"type": "line", "color": "#3a3a3a", "strokeWidth": 1.3, "interpolate": "monotone"}}
          ]
        },
        {
          "width": 204, "height": 25,
          "data": {"name": "ramp"},
          "mark": {"type": "area", "stroke": "#000", "strokeWidth": 0.8, "color": {"gradient": "linear", "x1": 0, "y1": 0, "x2": 1, "y2": 0, "stops": [{"offset": 0, "color": "#ffffff"}, {"offset": 0.38, "color": "#ffffff"}, {"offset": 0.95, "color": "#000000"}, {"offset": 1, "color": "#000000"}]}},
          "encoding": {
            "x": {"field": "t", "type": "quantitative", "scale": {"domain": [0, 1], "nice": false}, "axis": null},
            "y": {"field": "t", "type": "quantitative", "scale": {"domain": [0, 1], "nice": false}, "axis": null},
            "y2": {"datum": 0}
          }
        }
      ]
    },
    {
      "spacing": 16,
      "vconcat": [
        {
          "width": 204, "height": 247,
          "title": {"text": ["Control Read Quality", "(% concordance)"]},
          "encoding": {
            "x": {"field": "p0", "type": "quantitative", "scale": {"domain": [0, 60], "reverse": true, "nice": false}, "axis": {"title": "P0 (%)", "values": [0,10,20,30,40,50,60], "labelFlush": false, "gridColor": "#c2c2c2", "labelPadding": 6, "titlePadding": 11}},
            "y": {"field": "v", "type": "quantitative", "scale": {"domain": [0.81, 0.87], "nice": false, "zero": false}, "axis": {"title": null, "values": [0.81,0.815,0.82,0.825,0.83,0.835,0.84,0.845,0.85,0.855,0.86,0.865,0.87], "labelExpr": "round(datum.value * 1000) % 10 === 0 ? format(datum.value, '.2f') : ''", "labelOffset": {"condition": {"test": "datum.value === 0.81", "value": -2}, "value": 0}, "gridColor": {"condition": {"test": "round(datum.value * 1000) % 10 === 0", "value": "#c2c2c2"}, "value": "#e0e0e0"}, "labelPadding": 3, "minExtent": 39, "maxExtent": 39}}
          },
          "layer": [
            {"data": {"name": "crq"}, "mark": {"type": "circle", "size": 8, "color": "#000", "opacity": 1}},
            {"data": {"name": "crq_fit"}, "mark": {"type": "line", "color": "#3a3a3a", "strokeWidth": 1.3, "interpolate": "monotone"}}
          ]
        },
        {
          "width": 204, "height": 25,
          "data": {"name": "ramp"},
          "mark": {"type": "area", "stroke": "#000", "strokeWidth": 0.8, "color": {"gradient": "linear", "x1": 0, "y1": 0, "x2": 1, "y2": 0, "stops": [{"offset": 0, "color": "#ffffff"}, {"offset": 0.38, "color": "#ffffff"}, {"offset": 0.95, "color": "#000000"}, {"offset": 1, "color": "#000000"}]}},
          "encoding": {
            "x": {"field": "t", "type": "quantitative", "scale": {"domain": [0, 1], "nice": false}, "axis": null},
            "y": {"field": "t", "type": "quantitative", "scale": {"domain": [0, 1], "nice": false}, "axis": null},
            "y2": {"datum": 0}
          }
        }
      ]
    }
  ]
}
